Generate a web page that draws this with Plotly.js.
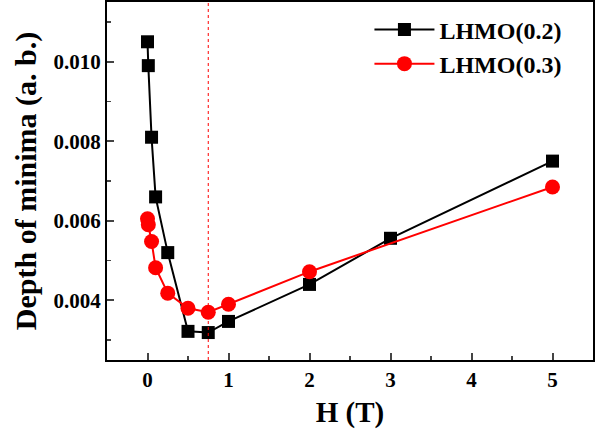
<!DOCTYPE html>
<html>
<head>
<meta charset="utf-8">
<script src="https://cdn.plot.ly/plotly-3.0.1.min.js"></script>
<style>html,body{margin:0;padding:0;background:#fff;}#chart{width:603px;height:437px;}</style>
</head>
<body>
<div id="chart"></div>
<script>
const hBlack = [0, 0.01, 0.05, 0.1, 0.25, 0.5, 0.75, 1, 2, 3, 5];
const depthBlack = [0.0105, 0.0099, 0.0081, 0.0066, 0.0052, 0.00322, 0.00319, 0.00347, 0.0044, 0.00556, 0.0075];
const hRed = [0, 0.01, 0.05, 0.1, 0.25, 0.5, 0.75, 1, 2, 5];
const depthRed = [0.00605, 0.0059, 0.00548, 0.00482, 0.00418, 0.0038, 0.0037, 0.0039, 0.00472, 0.00685];
const seriesNames = ['LHMO(0.2)', 'LHMO(0.3)'];
const markerLineX = 0.75;
const xTicks = [0, 1, 2, 3, 4, 5];
const yTicks = [0.004, 0.006, 0.008, 0.010];
const yTickText = ['0.004', '0.006', '0.008', '0.010'];

const font = 'Liberation Serif, Times New Roman, serif';
const traces = [
  {x: hBlack, y: depthBlack, name: seriesNames[0], mode: 'lines+markers',
   line: {color: '#000', width: 2}, marker: {symbol: 'square', size: 13, color: '#000'}},
  {x: hRed, y: depthRed, name: seriesNames[1], mode: 'lines+markers',
   line: {color: '#ff0000', width: 2}, marker: {symbol: 'circle', size: 15, color: '#ff0000'}}
];
const layout = {
  width: 603, height: 437,
  margin: {l: 107, r: 10, t: 2, b: 77},
  paper_bgcolor: '#fff', plot_bgcolor: '#fff',
  font: {family: font, color: '#000'},
  showlegend: true,
  legend: {x: 0.54, y: 0.985, xanchor: 'left', yanchor: 'top', bgcolor: 'rgba(0,0,0,0)',
           font: {family: font, size: 24, color: '#000', weight: 'bold'}, itemwidth: 60, tracegroupgap: 0},
  xaxis: {range: [-0.5, 5.5], tickvals: xTicks, ticks: 'inside', ticklen: 7, tickwidth: 2,
          minor: {dtick: 0.5, ticks: 'inside', ticklen: 4, tickwidth: 1.5, showgrid: false},
          showline: true, linewidth: 2, linecolor: '#000', mirror: true, showgrid: false, zeroline: false,
          tickfont: {family: font, size: 21, weight: 'bold'},
          title: {text: '<b>H (T)</b>', font: {family: font, size: 29}, standoff: 10}},
  yaxis: {range: [0.0025, 0.0115], tickvals: yTicks, ticktext: yTickText, ticks: 'inside', ticklen: 7, tickwidth: 2,
          minor: {dtick: 0.001, ticks: 'inside', ticklen: 4, tickwidth: 1.5, showgrid: false},
          showline: true, linewidth: 2, linecolor: '#000', mirror: true, showgrid: false, zeroline: false,
          tickfont: {family: font, size: 21, weight: 'bold'},
          title: {text: '<b>Depth of minima (a. b.)</b>', font: {family: font, size: 30}, standoff: 8}},
  shapes: [{type: 'line', xref: 'x', yref: 'paper', x0: markerLineX, x1: markerLineX, y0: 0, y1: 1,
            line: {color: '#ff0000', width: 1, dash: 'dot'}}]
};
Plotly.newPlot('chart', traces, layout, {staticPlot: true, displayModeBar: false});
</script>
</body>
</html>
